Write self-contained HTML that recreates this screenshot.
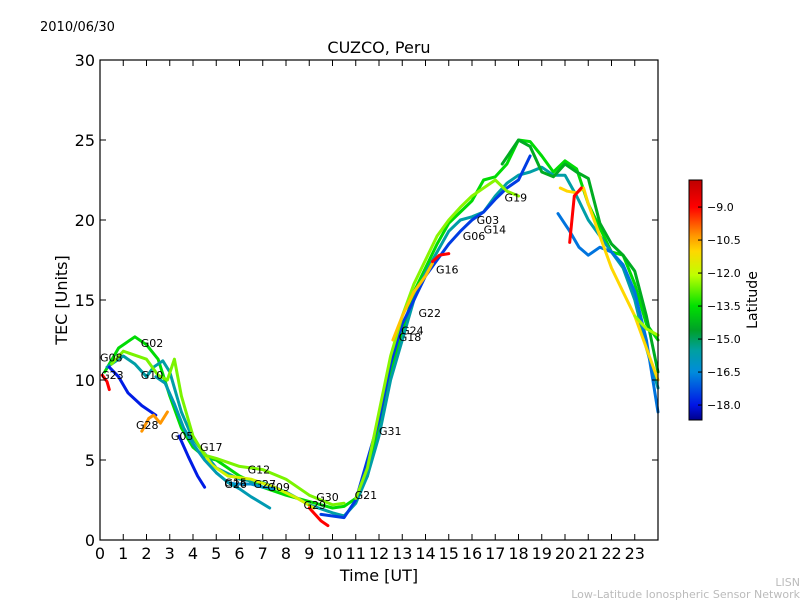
<!DOCTYPE html>
<html><head><meta charset="utf-8"><style>
body{margin:0;background:#fff;}
svg{display:block;font-family:"DejaVu Sans","Liberation Sans",sans-serif;}
</style></head><body>
<svg id="chart" width="800" height="600" viewBox="0 0 800 600">
<rect width="800" height="600" fill="#fff"/>
<text x="40" y="31" font-size="13">2010/06/30</text>
<text x="379" y="53" font-size="16" text-anchor="middle">CUZCO, Peru</text>
<g id="marks"></g>
<g id="labels"></g>
<rect x="100" y="60" width="558" height="480" fill="none" stroke="#000" stroke-width="1.2"/>
<g id="axes"></g>
<text transform="translate(67,300) rotate(-90)" font-size="16" text-anchor="middle">TEC [Units]</text>
<text x="379" y="581" font-size="16" text-anchor="middle">Time [UT]</text>
<defs><linearGradient id="jet" x1="0" y1="1" x2="0" y2="0"></linearGradient></defs>
<g id="cbar"></g>
<text transform="translate(757,300) rotate(-90)" font-size="14" text-anchor="middle">Latitude</text>
<text x="800" y="586" font-size="11" fill="#bbb" text-anchor="end">LISN</text>
<text x="800" y="598" font-size="11" fill="#bbb" text-anchor="end">Low-Latitude Ionospheric Sensor Network</text>
</svg>
<script>
const xTicks=[0,1,2,3,4,5,6,7,8,9,10,11,12,13,14,15,16,17,18,19,20,21,22,23];
const yTicks=[0,5,10,15,20,25,30];
const cbTicks=[-9.0,-10.5,-12.0,-13.5,-15.0,-16.5,-18.0];
const trackLat=[-13.6,-15.6,-14.4,-17.9,-17.9,-17.5,-16.8,-10.3,-11.8,-9.0,-9.0,-12.5,-11.0,-10.8,-16.3,-9.0,-9.0,-12.6,-15.8,-12.3];
const trackT=[
[0.2,0.8,1.5,2,2.5,3,3.5,4,4.5,5,6,7,8,9,10,10.5,11,11.5,12,12.5,13,13.5,14,14.5,15,15.5,16,16.5,17,17.5,18,18.5,19,19.5,20,20.5,21,21.5,22,22.5,23,23.5,24],
[0.3,1,1.5,2,2.3,2.7,3,3.5,4,5,6,7,8,9,10,10.5,11,11.5,12,12.5,13,13.5,14,14.5,15,15.5,16,16.5,17,17.5,18,18.5,19,19.5,20,20.5,21,21.5,22,22.5,23,23.5,24],
[17.3,18,18.5,19,19.5,20,20.5,21,21.5,22,22.5,23,23.5,24],
[0.4,0.8,1.2,1.8,2.4],
[3.4,3.8,4.2,4.5],
[9.5,10.5,11,11.5,12,12.5,13,13.5,14,14.5,15,15.5,16,16.5,17,17.5,18,18.5],
[19.7,20.2,20.6,21,21.5,22,22.5,23,23.5,24],
[1.8,2.1,2.3,2.6,2.9],
[4.3,4.8,5.5,6.5,7.5,8.5,9.2],
[9.0,9.5,9.8],
[0.1,0.3,0.4],
[11,11.5,12,12.5,13,13.5,14,14.5,15,15.5,16,16.5,17,17.5,18],
[19.8,20.1,20.5,20.8,21,21.5,22,22.5,23,23.5,24],
[12.6,13,13.5,14,14.3],
[5.5,5.8,6.5,7,7.5],
[14.3,14.6,15.0],
[20.2,20.4,20.7],
[0.5,1,2,2.5,2.9,3.2,3.5,4,4.5,5,6,7,8,9,10,10.5],
[2.4,2.8,3.2,3.6,4,4.5,5,5.5,6,6.5,7.3],
[23.0,23.5,24]
];
const trackV=[
[10.5,12,12.7,12.2,11.3,9,7,5.8,5.2,5,4,3.3,2.8,2.4,2.0,2.1,2.6,4,7,10.5,13,15.5,17,18.5,19.8,20.5,21.2,22.5,22.7,23.5,25,24.9,24,23,23.7,23.2,21,19.5,18,17.8,16,13.5,12.5],
[10.8,11.5,11,10.2,10.8,11.2,10.5,8,6.3,4.5,3.8,3.6,3,2.2,1.7,1.5,2.3,4,6.5,10,12.5,15,16.7,18,19.3,20,20.2,20.5,21.5,22.3,22.8,23,23.3,22.8,22.8,21.5,20,19,18,17,15,12,9.5],
[23.5,25,24.6,23,22.7,23.5,23,22.6,19.8,18.5,17.8,16.8,14,10.5],
[10.8,10.2,9.2,8.4,7.8],
[6.5,5.2,4,3.3],
[1.6,1.4,2.5,5,7.5,11,13.5,15,16.5,17.5,18.5,19.3,20,20.5,21.3,22,22.5,24],
[20.4,19.3,18.3,17.8,18.3,18,17.2,15.5,12.5,8],
[6.8,7.6,7.8,7.3,8],
[5.8,4.7,4.0,3.8,3.3,2.6,2.0],
[2.0,1.2,0.9],
[10.3,9.9,9.4],
[2.6,4.5,8,11.5,14,16,17.5,19,20,20.8,21.5,22,22.5,21.8,21.5],
[22,21.8,21.7,22,21,19,17,15.5,14,12,10],
[12.5,14,15.5,16.5,17.3],
[3.6,3.5,3.5,3.3,3.2],
[17.4,17.8,17.9],
[18.6,21.5,22.0],
[11,11.8,11.3,10.3,10,11.3,9,6.5,5.3,5.1,4.6,4.4,3.8,2.8,2.2,2.3],
[10.2,9.8,8.5,7,6,5,4.2,3.6,3.2,2.7,2.0],
[14,13.2,12.8]
];
const labelText=["G08","G02","G10","G23","G28","G05","G17","G12","G15","G26","G27","G09","G30","G29","G21","G31","G18","G24","G22","G16","G06","G03","G14","G19"];
const labelT=[0.0,1.75,1.75,0.05,1.55,3.05,4.3,6.35,5.35,5.35,6.6,7.2,9.3,8.75,10.95,12,12.85,12.95,13.7,14.45,15.6,16.2,16.5,17.4];
const labelV=[11.4,12.3,10.3,10.3,7.2,6.5,5.8,4.4,3.6,3.5,3.5,3.3,2.7,2.2,2.8,6.8,12.7,13.1,14.2,16.9,19.0,20.0,19.4,21.4];

const NS="http://www.w3.org/2000/svg";
const X=t=>100+t*558/24, Y=v=>540-v*16;
const latMin=-18.68, latMax=-7.77;
const LY=l=>420-(l-latMin)/(latMax-latMin)*240;
const cmapLat=[-18.68,-18.0,-16.5,-15.5,-14.6,-13.5,-12.1,-11.0,-10.3,-9.0,-7.77];
const cmapCol=[[0,0,140],[0,20,230],[0,140,220],[0,160,160],[0,160,40],[0,225,0],[190,255,0],[255,215,0],[255,150,0],[255,0,0],[190,0,0]];
function jet(l){
 if(l<=cmapLat[0])return `rgb(${cmapCol[0]})`;
 for(let i=1;i<cmapLat.length;i++){if(l<=cmapLat[i]){const f=(l-cmapLat[i-1])/(cmapLat[i]-cmapLat[i-1]);
  const c=cmapCol[i-1].map((v,k)=>Math.round(v+(cmapCol[i][k]-v)*f));return `rgb(${c})`;}}
 return `rgb(${cmapCol[cmapCol.length-1]})`;}
function mk(tag,at,parent){const e=document.createElementNS(NS,tag);for(const k in at)e.setAttribute(k,at[k]);parent.appendChild(e);return e;}
const grad=document.getElementById('jet');
cmapLat.forEach((l,i)=>{mk('stop',{offset:((l-latMin)/(latMax-latMin)).toFixed(3),'stop-color':`rgb(${cmapCol[i]})`},grad);});
const marks=document.getElementById('marks');
trackT.forEach((ts,i)=>{
 const pts=ts.map((t,j)=>X(t).toFixed(1)+','+Y(trackV[i][j]).toFixed(1)).join(' ');
 const pl=mk('polyline',{points:pts,fill:'none',stroke:jet(trackLat[i]),'stroke-width':3,'stroke-linejoin':'round','stroke-linecap':'round'},marks);
 
 
});
const lg=document.getElementById('labels');
labelText.forEach((s,i)=>{
 const t=mk('text',{x:X(labelT[i]),y:Y(labelV[i])+4,'font-size':11},lg);t.textContent=s;
 
 
});
const ax=document.getElementById('axes');
xTicks.forEach(t=>{const x=X(t);
 mk('line',{x1:x,x2:x,y1:540,y2:534,stroke:'#000'},ax);mk('line',{x1:x,x2:x,y1:60,y2:66,stroke:'#000'},ax);
 const e=mk('text',{x:x,y:559,'font-size':16,'text-anchor':'middle'},ax);e.textContent=t;
 
 
});
yTicks.forEach(v=>{const y=Y(v);
 mk('line',{x1:100,x2:106,y1:y,y2:y,stroke:'#000'},ax);mk('line',{x1:658,x2:652,y1:y,y2:y,stroke:'#000'},ax);
 const e=mk('text',{x:95,y:y+6,'font-size':16,'text-anchor':'end'},ax);e.textContent=v;
 
 
});
const cb=document.getElementById('cbar');
mk('rect',{x:689,y:180,width:13,height:240,fill:'url(#jet)',stroke:'#000','stroke-width':1},cb);
cbTicks.forEach(l=>{const y=LY(l);
 mk('line',{x1:698,x2:702,y1:y,y2:y,stroke:'#000'},cb);
 const e=mk('text',{x:707,y:y+4,'font-size':11},cb);e.textContent='\u2212'+Math.abs(l).toFixed(1);
 
 
});
</script>
</body></html>
